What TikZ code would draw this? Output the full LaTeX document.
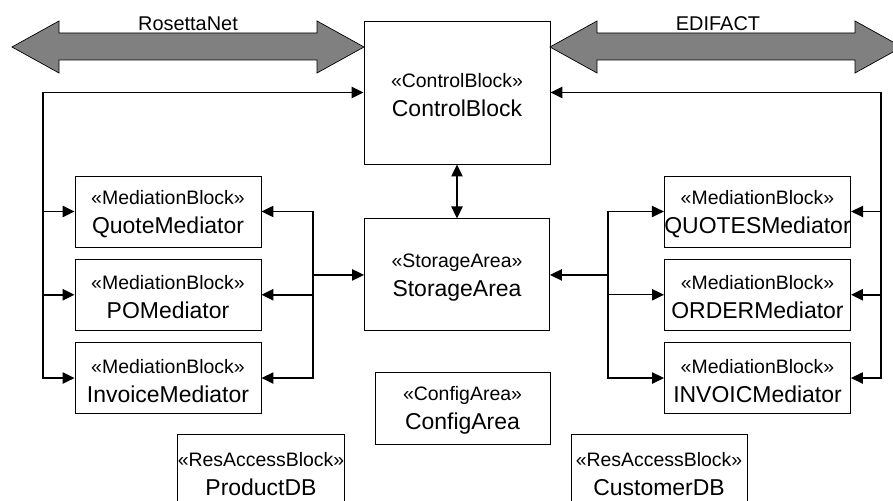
\documentclass[tikz,border=0pt]{standalone}
\usepackage{fontspec}
\setmainfont{Liberation Sans}
\usepackage{tikz}
\usetikzlibrary{arrows.meta,positioning}

\newcommand{\stype}[1]{{\fontsize{16.6}{20}\selectfont\rule{0pt}{16.5pt}«#1»}}

\begin{document}
\begin{tikzpicture}[x=0.3mm,y=-0.3mm,
        >={Triangle[length=3.6mm,width=3.4mm]},
        box/.style={rectangle, draw, line width=0.8pt, inner sep=0pt, align=center,
                    font=\fontsize{19.6}{24.8}\selectfont},
        medbox/.style={box, minimum width=55.8mm, minimum height=21.3mm},
        conn/.style={line width=1pt},
        ctl/.style={line width=1.4pt},
        bigarrow/.style={draw, line width=0.6pt, fill=gray}]
        \clip (0,0) rectangle (893,501);

        % center column
        \node[box, minimum width=55.8mm, minimum height=42.9mm] (ctrl) at (457,92.5) {\stype{ControlBlock}\\ ControlBlock};
        \node[box, minimum width=55.5mm, minimum height=33.6mm, below = 16.2mm of ctrl] (store) {\stype{StorageArea}\\ StorageArea};
        \node[box, minimum width=52.5mm, minimum height=21.6mm] (config) at (462.5,408) {\stype{ConfigArea}\\ ConfigArea};

        % mediators
        \node[medbox] (quote) at (168,211.5) {\stype{MediationBlock}\\ QuoteMediator};
        \node[medbox, below = 3.4mm of quote] (po) {\stype{MediationBlock}\\ POMediator};
        \node[medbox, below = 3.4mm of po] (invoice) {\stype{MediationBlock}\\ InvoiceMediator};
        \node[medbox] (quotes) at (757.5,211.5) {\stype{MediationBlock}\\ QUOTESMediator};
        \node[medbox, below = 3.4mm of quotes] (order) {\stype{MediationBlock}\\ ORDERMediator};
        \node[medbox, below = 3.4mm of order] (invoic) {\stype{MediationBlock}\\ INVOICMediator};

        % resource access
        \node[box, minimum width=49.8mm, minimum height=22.5mm] (product) at (261,471.5) {\stype{ResAccessBlock}\\ ProductDB};
        \node[box, minimum width=52.8mm, minimum height=22.5mm] (customer) at (659,471.5) {\stype{ResAccessBlock}\\ CustomerDB};

        % external links
        \draw[bigarrow] (12,47) -- (59,21) -- (59,33) -- (317,33) -- (317,21) -- (364,47)
                -- (317,73) -- (317,60) -- (59,60) -- (59,73) -- cycle;
        \draw[bigarrow] (550,47) -- (597,21) -- (597,33) -- (855,33) -- (855,21) -- (902,47)
                -- (855,73) -- (855,60) -- (597,60) -- (597,73) -- cycle;
        \node[anchor=base, font=\fontsize{17}{20}\selectfont] (rosetta) at (188,31) {RosettaNet};
        \node[anchor=base, font=\fontsize{17}{20}\selectfont] (edifact) at (718,31) {EDIFACT};

        % control lines
        \coordinate (lbus) at (43,92.5);
        \coordinate (rbus) at (881,92.5);
        \draw[<->,ctl] (ctrl.west) -- (lbus) -- (lbus |- invoice.west) -- (invoice.west);
        \draw[->,ctl] (lbus |- quote.west) -- (quote.west);
        \draw[->,ctl] (lbus |- po.west) -- (po.west);
        \draw[<->,ctl] (ctrl.east) -- (rbus) -- (rbus |- invoic.east) -- (invoic.east);
        \draw[->,ctl] (rbus |- quotes.east) -- (quotes.east);
        \draw[->,ctl] (rbus |- order.east) -- (order.east);
        \draw[<->,conn] (ctrl.south) -- (store.north);

        % storage buses
        \coordinate (lmid) at (313,274);
        \coordinate (rmid) at (608,274);
        \draw[->,ctl] (lmid |- store.west) -- (store.west);
        \draw[<->,conn] (quote.east) -| (lmid |- invoice.east) -- (invoice.east);
        \draw[->,ctl] (lmid |- po.east) -- (po.east);
        \draw[->,ctl] (rmid |- store.east) -- (store.east);
        \draw[<->,conn] (quotes.west) -| (rmid |- invoic.west) -- (invoic.west);
        \draw[->,conn] (rmid |- order.west) -- (order.west);
      \end{tikzpicture}
\end{document}
